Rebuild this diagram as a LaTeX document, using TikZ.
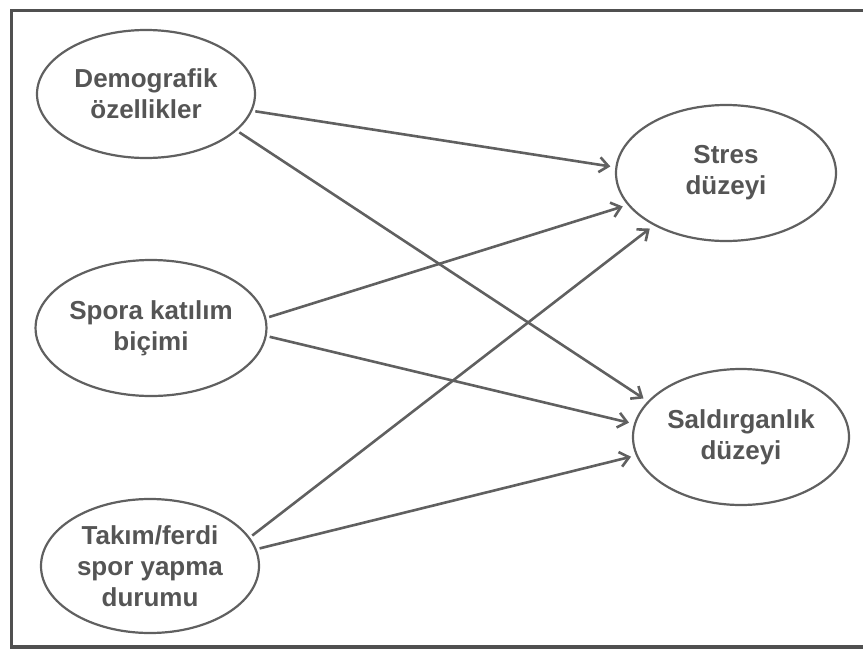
\documentclass[tikz,border=0pt]{standalone}
\usepackage{fontspec}
\setmainfont{Liberation Sans}
\usetikzlibrary{arrows.meta,shapes.geometric}
\definecolor{linegray}{HTML}{606060}
\definecolor{textgray}{HTML}{555555}
\definecolor{framegray}{HTML}{505050}

\begin{document}
\begin{tikzpicture}[x=1pt,y=-1pt,
  var/.style={ellipse,draw=linegray,line width=2.2pt,minimum width=218pt,minimum height=132pt,
    inner sep=0pt,align=center,text=textgray,font=\fontsize{26}{31}\selectfont\bfseries},
  effect/.style={draw=linegray,line width=2.6pt,-{Straight Barb[length=9pt,width=15pt]},
    shorten <=3pt,shorten >=5pt}]
\useasboundingbox (0,0) rectangle (863,654);
% frame
\draw [framegray,line width=3.5pt] (863,10.5) -- (11.5,10.5) -- (11.5,647) -- (863,647);
% predictors
\node [var,minimum height=128pt] (dem) at (146,94) {Demografik\\özellikler};
\node [var,minimum height=136pt] (spor) at (151,328) {Spora katılım\\biçimi};
\node [var,minimum height=134pt] (takim) at (150,566) {Takım/ferdi\\spor yapma\\durumu};
% outcomes
\node [var,minimum width=220pt,minimum height=136pt] (stres) at (726,173) {Stres\\düzeyi};
\node [var,minimum width=216pt,minimum height=136pt] (sald) at (741,437) {Saldırganlık\\düzeyi};
% paths
\draw [effect] (dem.-9.6) -- (stres.177.6);
\draw [effect] (dem.-22.9) -- (sald.159.7);
\draw [effect] (spor.5.3) -- (stres.-162.2);
\draw [effect] (spor.-4.9) -- (sald.173.1);
\draw [effect] (takim.16) -- (stres.-144.5);
\draw [effect] (takim.9.2) -- (sald.-170.4);
\end{tikzpicture}
\end{document}
